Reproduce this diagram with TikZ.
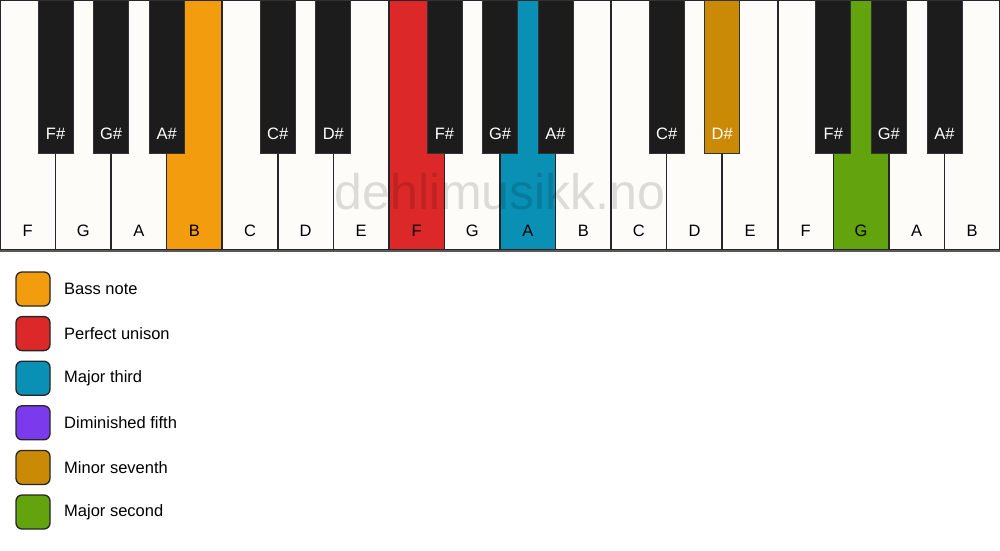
\documentclass[tikz,border=0pt]{standalone}
\usepackage{fontspec}
\setmainfont{Liberation Sans}
\definecolor{keywhite}{HTML}{FDFCF9}
\definecolor{keyblack}{HTML}{1C1C1C}
\definecolor{bass}{HTML}{F39C0E}
\definecolor{unison}{HTML}{DC2828}
\definecolor{third}{HTML}{0A8FB5}
\definecolor{fifth}{HTML}{7B3AEC}
\definecolor{seventh}{HTML}{CB8A06}
\definecolor{second}{HTML}{63A30E}
\begin{document}
\begin{tikzpicture}[x=1pt,y=-1pt]
\tikzstyle{whitekey}=[rectangle,draw=black!85,line width=1.6pt,minimum width=55.556pt,minimum height=250pt,inner sep=0pt]
\tikzstyle{blackkey}=[rectangle,draw=black!80,line width=0.8pt,minimum width=35pt,minimum height=153pt,inner sep=0pt]
\tikzstyle{keylabel}=[font=\fontsize{16.5}{16.5}\selectfont]
\tikzstyle{swatch}=[rectangle,rounded corners=6pt,draw=black!85,line width=1.3pt,minimum size=34pt,inner sep=0pt]
\useasboundingbox[fill=white] (0,0) rectangle (1000,550);
% white keys
\foreach \n/\c [count=\i from 0] in {F/keywhite,G/keywhite,A/keywhite,B/bass,C/keywhite,D/keywhite,E/keywhite,F/unison,G/keywhite,A/third,B/keywhite,C/keywhite,D/keywhite,E/keywhite,F/keywhite,G/second,A/keywhite,B/keywhite}
{
  \node[whitekey,fill=\c] (w\i) at (\i*55.556+27.778,125) {};
  \node[keylabel] (wl\i) at ([yshift=20pt]w\i.south) {\n};
}
\draw[black!65,line width=2pt] (w0.south west) -- (w17.south east);
\draw[black!65,line width=1.6pt] (w0.south west) -- (w0.north west);
% black keys
\foreach \k/\n/\c in {1/F/keyblack,2/G/keyblack,3/A/keyblack,5/C/keyblack,6/D/keyblack,8/F/keyblack,9/G/keyblack,10/A/keyblack,12/C/keyblack,13/D/seventh,15/F/keyblack,16/G/keyblack,17/A/keyblack}
{
  \node[blackkey,fill=\c] (b\k) at (\k*55.556,76.5) {};
  \node[keylabel,text=white] (bl\k) at ([yshift=20pt]b\k.south) {\n\#};
}
\node[text=black,text opacity=0.13,font=\fontsize{50}{50}\selectfont] (mark) at (500,192) {dehlimusikk.no};
% legend
\foreach \c/\t [count=\i from 0] in {bass/Bass note,unison/Perfect unison,third/Major third,fifth/Diminished fifth,seventh/Minor seventh,second/Major second}
{
  \node[swatch,fill=\c] (s\i) at (33,289+\i*44.6) {};
  \node[keylabel,anchor=west] (t\i) at ([xshift=10pt]s\i.east) {\t};
}
\end{tikzpicture}
\end{document}
